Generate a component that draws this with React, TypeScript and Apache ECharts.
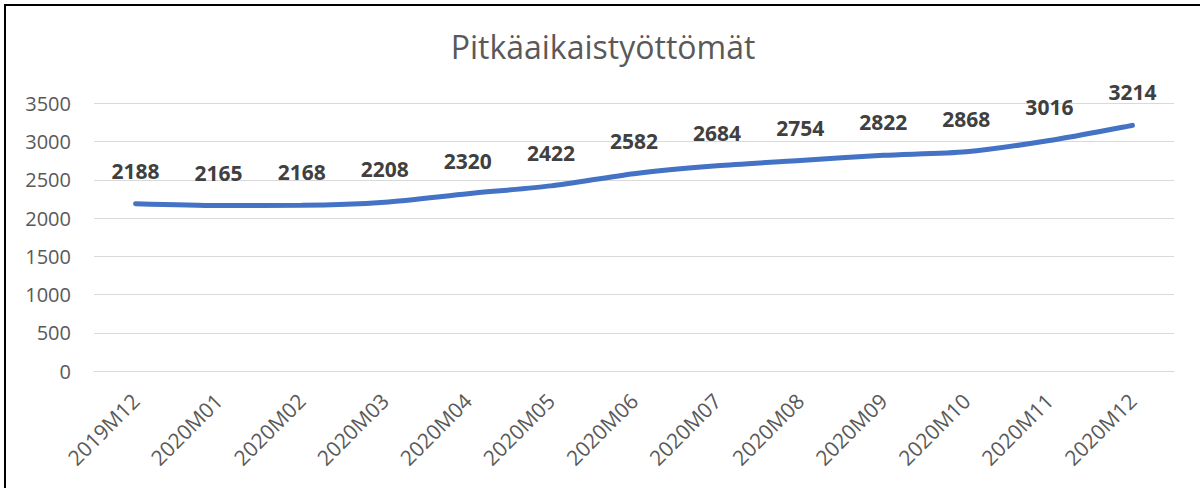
import React, { useEffect, useRef } from "react";
import * as echarts from "echarts";

const TITLE = "Pitkäaikaistyöttömät";
const categories = [
  "2019M12", "2020M01", "2020M02", "2020M03", "2020M04", "2020M05", "2020M06",
  "2020M07", "2020M08", "2020M09", "2020M10", "2020M11", "2020M12",
];
const values = [2188, 2165, 2168, 2208, 2320, 2422, 2582, 2684, 2754, 2822, 2868, 3016, 3214];
const yMin = 0;
const yMax = 3500;
const yInterval = 500;

const FONT = "'Open Sans', 'Noto Sans', sans-serif";

export default function App() {
  const ref = useRef<HTMLDivElement>(null);
  useEffect(() => {
    if (!ref.current) return;
    const chart = echarts.init(ref.current, null, { renderer: "svg" });
    chart.setOption({
      animation: false,
      backgroundColor: "#ffffff",
      title: {
        text: TITLE,
        left: 598,
        textAlign: "center",
        top: 25,
        textStyle: { fontFamily: FONT, fontSize: 32, fontWeight: "normal", color: "#595959" },
      },
      grid: { left: 94, right: 26, top: 103.5, bottom: 117 },
      xAxis: {
        type: "category",
        data: categories,
        boundaryGap: true,
        axisLine: { show: true, lineStyle: { color: "#D9D9D9", width: 1 } },
        axisTick: { show: false },
        axisLabel: {
          rotate: 45,
          margin: 26,
          fontFamily: FONT,
          fontSize: 21,
          color: "#595959",
          interval: 0,
        },
      },
      yAxis: {
        type: "value",
        min: yMin,
        max: yMax,
        interval: yInterval,
        axisLine: { show: false },
        axisTick: { show: false },
        axisLabel: {
          margin: 23,
          fontFamily: FONT,
          fontSize: 20,
          color: "#595959",
          formatter: (v: number) => String(v),
        },
        splitLine: { lineStyle: { color: "#D9D9D9", width: 1 } },
      },
      series: [
        {
          type: "line",
          data: values,
          smooth: 0.25,
          symbol: "circle",
          symbolSize: 1,
          showSymbol: true,
          itemStyle: { color: "rgba(68,114,196,0)" },
          lineStyle: { color: "#4472C4", width: 5, cap: "round" },
          label: {
            show: true,
            position: "top",
            distance: 22,
            fontFamily: FONT,
            fontSize: 21,
            fontWeight: "bold",
            color: "#404040",
          },
        },
      ],
      graphic: [
        { type: "line", shape: { x1: 4, y1: 5, x2: 1200, y2: 5 }, style: { stroke: "#000", lineWidth: 2 } },
        { type: "line", shape: { x1: 5, y1: 4, x2: 5, y2: 488 }, style: { stroke: "#000", lineWidth: 2 } },
      ],
    });
    return () => chart.dispose();
  }, []);
  return (
    <div
      ref={ref}
      style={{ position: "absolute", left: 0, top: 0, width: 1200, height: 488 }}
    />
  );
}
